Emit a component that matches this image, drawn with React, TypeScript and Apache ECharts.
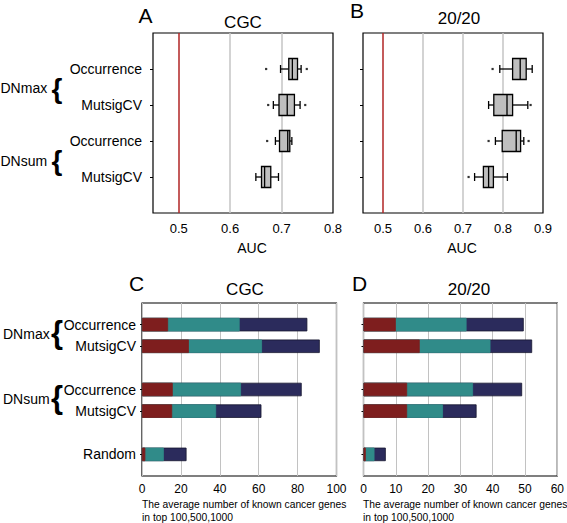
import React, { useEffect, useRef } from 'react';
import * as echarts from 'echarts';

// ---------- Data ----------
const boxCategories = ['', 'Occurrence', 'MutsigCV', 'Occurrence', 'MutsigCV', ''];
const boxRows = [1, 2, 3, 4];
// [min, q1, median, q3, max]
const cgcAUC = [
  [0.698, 0.714, 0.721, 0.731, 0.738],
  [0.684, 0.695, 0.711, 0.725, 0.736],
  [0.688, 0.696, 0.712, 0.716, 0.720],
  [0.650, 0.661, 0.667, 0.679, 0.694],
];
const cgcOutliers = [[0.670, 1], [0.749, 1], [0.674, 2], [0.746, 2], [0.672, 3]];
const t2020AUC = [
  [0.792, 0.824, 0.843, 0.858, 0.873],
  [0.764, 0.777, 0.810, 0.824, 0.862],
  [0.781, 0.798, 0.833, 0.844, 0.852],
  [0.729, 0.751, 0.764, 0.776, 0.811],
];
const t2020Outliers = [[0.774, 1], [0.869, 2], [0.764, 3], [0.864, 3], [0.714, 4]];
const cgcAucTicks = [0.5, 0.6, 0.7, 0.8];
const t2020AucTicks = [0.5, 0.6, 0.7, 0.8, 0.9];
const cgcGridLines = [0.6, 0.7];
const t2020GridLines = [0.6, 0.7, 0.8];
const randomAUC = 0.5;

const barCategories = ['', 'Occurrence', 'MutsigCV', '', 'Occurrence', 'MutsigCV', '', 'Random', ''];
const barRows = [1, 2, 4, 5, 7];
const cgcTop100 = [13.4, 24.1, 15.8, 15.5, 1.7];
const cgcTop500 = [50.2, 61.7, 50.9, 38.1, 11.2];
const cgcTop1000 = [85.0, 91.4, 82.1, 61.4, 22.9];
const t2020Top100 = [10.0, 17.4, 13.5, 13.5, 0.7];
const t2020Top500 = [31.9, 39.3, 33.9, 24.6, 3.4];
const t2020Top1000 = [49.6, 52.2, 49.1, 35.0, 6.9];

const FONT = '"Liberation Sans", Arial, Helvetica, sans-serif';
const RED = '#7e1e1e';
const TEAL = '#308b89';
const NAVY = '#2b2b5c';

function renderBox(params: any, api: any) {
  const row = api.value(0);
  const p = [1, 2, 3, 4, 5].map((k) => api.coord([api.value(k), row]));
  const y = p[0][1];
  const h = 21;
  const cap = 8;
  const stroke = { stroke: '#000', lineWidth: 1.3 };
  return {
    type: 'group',
    children: [
      { type: 'line', shape: { x1: p[0][0], y1: y, x2: p[1][0], y2: y }, style: stroke },
      { type: 'line', shape: { x1: p[3][0], y1: y, x2: p[4][0], y2: y }, style: stroke },
      { type: 'line', shape: { x1: p[0][0], y1: y - cap / 2, x2: p[0][0], y2: y + cap / 2 }, style: stroke },
      { type: 'line', shape: { x1: p[4][0], y1: y - cap / 2, x2: p[4][0], y2: y + cap / 2 }, style: stroke },
      {
        type: 'rect',
        shape: { x: p[1][0], y: y - h / 2, width: p[3][0] - p[1][0], height: h },
        style: { fill: '#bfbfbf', stroke: '#000', lineWidth: 1.3 },
      },
      { type: 'line', shape: { x1: p[2][0], y1: y - h / 2, x2: p[2][0], y2: y + h / 2 }, style: stroke },
    ],
  };
}

function txt(text: string, x: number, y: number, fontSize: number, align = 'center', extra: any = {}) {
  return {
    type: 'text',
    x,
    y,
    silent: true,
    style: {
      text,
      fontSize,
      fontFamily: FONT,
      fill: '#000',
      align,
      textAlign: align,
      verticalAlign: 'middle',
      textVerticalAlign: 'middle',
      ...extra,
    },
  };
}

export default function App() {
  const ref = useRef<HTMLDivElement>(null);
  useEffect(() => {
    if (!ref.current) return;
    const chart = echarts.init(ref.current, null, { renderer: 'svg' });

    const gridStyle = { show: true, borderColor: '#000', borderWidth: 1.2, backgroundColor: 'transparent' };
    const aucAxis = (gi: number, max: number, ticks: number[]) => ({
      type: 'value',
      gridIndex: gi,
      min: 0.45,
      max,
      axisLine: { show: false },
      axisTick: { show: false },
      splitLine: { show: false },
      axisLabel: {
        customValues: ticks,
        formatter: (v: number) => v.toFixed(1),
        fontSize: 13,
        margin: 9,
        color: '#000',
        fontFamily: FONT,
      },
    });
    const countAxis = (gi: number, max: number, interval: number) => ({
      type: 'value',
      gridIndex: gi,
      min: 0,
      max,
      interval,
      axisLine: { show: false },
      axisTick: { show: false },
      splitLine: { show: true, lineStyle: { color: '#c2c2c2', width: 1 } },
      axisLabel: { fontSize: 12, margin: 7, color: '#000', fontFamily: FONT },
    });
    const catAxis = (gi: number, data: string[], rows: number[], showLabel: boolean, margin: number, tickLen: number) => ({
      type: 'category',
      gridIndex: gi,
      data,
      inverse: true,
      boundaryGap: false,
      axisLine: { show: false },
      axisTick: {
        show: true,
        length: tickLen,
        lineStyle: { color: '#000' },
        interval: (index: number) => rows.includes(index),
      },
      splitLine: { show: false },
      axisLabel: { show: showLabel, interval: 0, fontSize: 14, margin, color: '#000', fontFamily: FONT },
    });

    const refLines = (grid: number[]) => ({
      silent: true,
      symbol: 'none',
      z: 1,
      label: { show: false },
      lineStyle: { type: 'solid', color: '#c4c4c4', width: 1.5 },
      data: [
        ...grid.map((v) => ({ xAxis: v })),
        { xAxis: randomAUC, lineStyle: { type: 'solid', color: '#b02424', width: 1.5 } },
      ],
    });

    const boxSeries = (idx: number, stats: number[][], outliers: number[][], grid: number[]) => [
      {
        type: 'custom',
        xAxisIndex: idx,
        yAxisIndex: idx,
        z: 3,
        renderItem: renderBox,
        encode: { x: [1, 2, 3, 4, 5], y: 0 },
        data: stats.map((d, i) => [boxRows[i], ...d]),
      },
      {
        type: 'scatter',
        xAxisIndex: idx,
        yAxisIndex: idx,
        z: 4,
        symbol: 'rect',
        symbolSize: 2.2,
        itemStyle: { color: '#000' },
        data: outliers,
        markLine: refLines(grid),
      },
    ];

    const barSeries = (idx: number, t100: number[], t500: number[], t1000: number[]) =>
      [
        { name: 'top 1000', vals: t1000, color: NAVY, border: '#15152e' },
        { name: 'top 500', vals: t500, color: TEAL, border: TEAL },
        { name: 'top 100', vals: t100, color: RED, border: RED },
      ].map((s) => ({
        type: 'bar',
        name: s.name,
        xAxisIndex: idx,
        yAxisIndex: idx,
        barWidth: 13.5,
        barGap: '-100%',
        z: 3,
        itemStyle: { color: s.color, borderColor: s.border, borderWidth: 0.8 },
        data: s.vals.map((v, i) => [v, barRows[i]]),
      }));

    chart.setOption({
      animation: false,
      backgroundColor: '#fff',
      textStyle: { fontFamily: FONT },
      grid: [
        { left: 153, top: 33, width: 180, height: 180, ...gridStyle },
        { left: 363, top: 33, width: 180, height: 180, ...gridStyle },
        { left: 142, top: 303, width: 194.5, height: 173, ...gridStyle },
        { left: 363.5, top: 303, width: 195, height: 173, ...gridStyle },
      ],
      xAxis: [
        aucAxis(0, 0.8, cgcAucTicks),
        aucAxis(1, 0.9, t2020AucTicks),
        countAxis(2, 100, 20),
        countAxis(3, 60, 10),
      ],
      yAxis: [
        catAxis(0, boxCategories, boxRows, true, 11, 3),
        catAxis(1, boxCategories, boxRows, false, 11, 3),
        catAxis(2, barCategories, barRows, true, 6, 2),
        catAxis(3, barCategories, barRows, false, 6, 2),
      ],
      series: [
        ...boxSeries(0, cgcAUC, cgcOutliers, cgcGridLines),
        ...boxSeries(1, t2020AUC, t2020Outliers, t2020GridLines),
        ...barSeries(2, cgcTop100, cgcTop500, cgcTop1000),
        ...barSeries(3, t2020Top100, t2020Top500, t2020Top1000),
      ],
      graphic: [
        txt('A', 145.5, 15, 21),
        txt('B', 357, 10, 21),
        txt('C', 136.5, 283, 21),
        txt('D', 359.5, 283.5, 21),
        txt('CGC', 243, 22.5, 17),
        txt('20/20', 459, 18, 17),
        txt('CGC', 245, 289, 17),
        txt('20/20', 469, 289.5, 17),
        txt('AUC', 252, 248, 14),
        txt('AUC', 462, 248, 14),
        txt('DNmax', 0.5, 87.5, 14, 'left'),
        txt('DNsum', 0.5, 161, 14, 'left'),
        txt('{', 57, 88, 28, 'center', { fontWeight: 'bold' }),
        txt('{', 57, 160, 28, 'center', { fontWeight: 'bold' }),
        txt('DNmax', 3, 333.5, 14, 'left'),
        txt('DNsum', 3, 399, 14, 'left'),
        txt('{', 57, 332, 31, 'center', { fontWeight: 'bold' }),
        txt('{', 57, 397, 31, 'center', { fontWeight: 'bold' }),
        txt('The average number of known cancer genes\nin top 100,500,1000', 142, 510.5, 10.3, 'left', { lineHeight: 13 }),
        txt('The average number of known cancer genes\nin top 100,500,1000', 363, 510.5, 10.3, 'left', { lineHeight: 13 }),
      ],
    });
    return () => chart.dispose();
  }, []);

  return (
    <div
      ref={ref}
      style={{ position: 'absolute', left: 0, top: 0, width: 567, height: 523, background: '#fff' }}
    />
  );
}
